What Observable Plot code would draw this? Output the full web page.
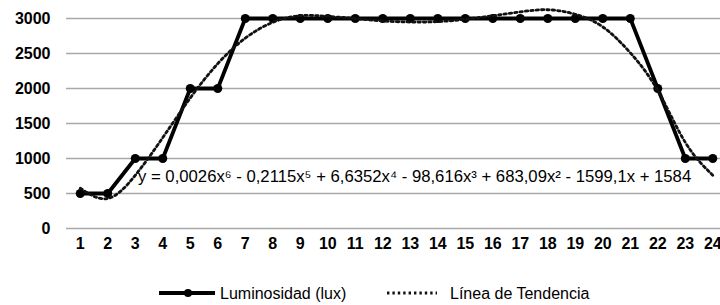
<!DOCTYPE html>
<html>
<head>
<meta charset="utf-8">
<script src="https://cdn.jsdelivr.net/npm/d3@7"></script>
<script src="https://cdn.jsdelivr.net/npm/@observablehq/plot@0.6"></script>
<style>
  html, body { margin: 0; padding: 0; background: #fff; }
  #chart { width: 720px; height: 305px; position: relative; overflow: hidden; font-family: "Liberation Sans", Arial, sans-serif; }
  #legend { position: absolute; left: 0; top: 258px; width: 720px; height: 47px; }
</style>
</head>
<body>
<div id="chart"></div>
<script>
// ---- data ----
const hours = [1,2,3,4,5,6,7,8,9,10,11,12,13,14,15,16,17,18,19,20,21,22,23,24];
const luminosidad = [500,500,1000,1000,2000,2000,3000,3000,3000,3000,3000,3000,3000,3000,3000,3000,3000,3000,3000,3000,3000,2000,1000,1000];
const tendencia = [576,429,760,1298,1865,2355,2719,2946,3040,3030,3000,2965,2950,2955,2990,3040,3095,3125,3060,2880,2510,1970,1230,760];
const yTicks = [0,500,1000,1500,2000,2500,3000];
const equation = "y = 0,0026x⁶ - 0,2115x⁵ + 6,6352x⁴ - 98,616x³ + 683,09x² - 1599,1x + 1584";
const seriesNames = ["Luminosidad (lux)", "Línea de Tendencia"];
const eqAnchor = [{x: 3.1, y: 745, text: equation}];

const luxData = hours.map((h, i) => ({x: h, y: luminosidad[i]}));
const trendData = hours.map((h, i) => ({x: h, y: tendencia[i]}));

const font = "'Liberation Sans', Arial, sans-serif";

const plot = Plot.plot({
  width: 720,
  height: 258,
  marginLeft: 66,
  marginRight: 0,
  marginTop: 18,
  marginBottom: 30,
  style: {fontFamily: font, fontSize: "16px", color: "#000", background: "#fff", overflow: "visible"},
  x: {type: "linear", domain: [0.5, 24.28]},
  y: {domain: [0, 3000]},
  marks: [
    Plot.gridY(yTicks, {stroke: "#a8a8a8", strokeOpacity: 1, strokeWidth: 1.4}),
    Plot.axisY(yTicks, {tickSize: 0, tickPadding: 16, fontWeight: "bold", fontSize: 16, fill: "#000", label: null, tickFormat: d => String(d)}),
    Plot.axisX(hours, {tickSize: 0, tickPadding: 9, fontWeight: "bold", fontSize: 16, fill: "#000", label: null, tickFormat: d => String(d)}),
    Plot.line(luxData, {x: "x", y: "y", stroke: "#000", strokeWidth: 3.8}),
    Plot.dot(luxData, {x: "x", y: "y", r: 4.5, fill: "#000", stroke: "none"}),
    Plot.line(trendData, {x: "x", y: "y", curve: "natural", stroke: "#111", strokeWidth: 2.8, strokeDasharray: "2.4,3"}),
    Plot.text(eqAnchor, {x: "x", y: "y", text: "text", textAnchor: "start", fontSize: 16.7, fill: "#000"})
  ]
});

const chart = document.getElementById("chart");
chart.appendChild(plot);

// legend
const legend = d3.select(chart).append("svg")
  .attr("id", "legend")
  .attr("width", 720).attr("height", 47);
const ly = 35;
legend.append("line").attr("x1", 159).attr("x2", 215).attr("y1", ly).attr("y2", ly)
  .attr("stroke", "#000").attr("stroke-width", 3.8);
legend.append("circle").attr("cx", 188).attr("cy", ly).attr("r", 4).attr("fill", "#000");
legend.append("text").attr("x", 220).attr("y", ly).attr("dy", "0.35em")
  .attr("font-family", font).attr("font-size", 16).attr("fill", "#000").text(seriesNames[0]);
legend.append("line").attr("x1", 387).attr("x2", 437).attr("y1", ly).attr("y2", ly)
  .attr("stroke", "#111").attr("stroke-width", 2.8).attr("stroke-dasharray", "2.4,3");
legend.append("text").attr("x", 450).attr("y", ly).attr("dy", "0.35em")
  .attr("font-family", font).attr("font-size", 16).attr("fill", "#000").text(seriesNames[1]);
</script>
</body>
</html>
